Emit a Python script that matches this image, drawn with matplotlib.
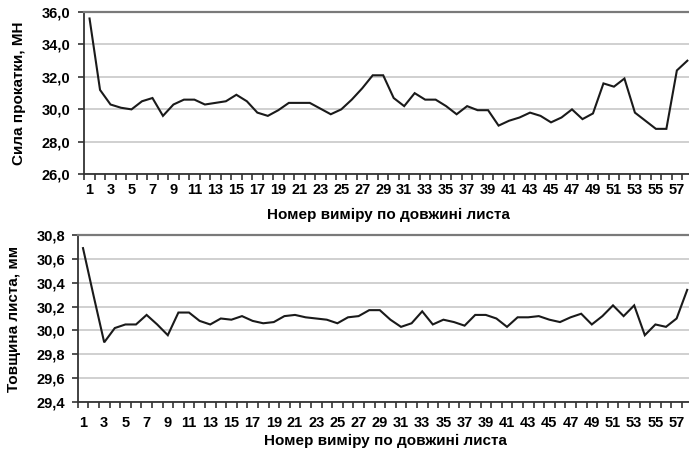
import matplotlib
matplotlib.use("Agg")
import matplotlib.pyplot as plt
from matplotlib.ticker import FixedLocator, FuncFormatter, NullFormatter

plt.rcParams['font.family'] = ['Liberation Sans', 'DejaVu Sans']
plt.rcParams['font.weight'] = 'bold'

n_points = list(range(1, 59))

force = [35.6, 31.2, 30.3, 30.1, 30.0, 30.5, 30.7, 29.6, 30.3, 30.6,
         30.6, 30.3, 30.4, 30.5, 30.9, 30.5, 29.8, 29.6, 29.95, 30.4,
         30.4, 30.4, 30.05, 29.7, 30.0, 30.6, 31.3, 32.1, 32.1, 30.7,
         30.2, 31.0, 30.6, 30.6, 30.2, 29.7, 30.2, 29.95, 29.95, 29.0,
         29.3, 29.5, 29.8, 29.6, 29.2, 29.5, 30.0, 29.4, 29.75, 31.6,
         31.4, 31.9, 29.8, 29.3, 28.8, 28.8, 32.4, 33.0]

thickness = [30.69, 30.29, 29.90, 30.02, 30.05, 30.05, 30.13, 30.05, 29.96, 30.15,
             30.15, 30.08, 30.05, 30.10, 30.09, 30.12, 30.08, 30.06, 30.07, 30.12,
             30.13, 30.11, 30.10, 30.09, 30.06, 30.11, 30.12, 30.17, 30.17, 30.09,
             30.03, 30.06, 30.16, 30.05, 30.09, 30.07, 30.04, 30.13, 30.13, 30.10,
             30.03, 30.11, 30.11, 30.12, 30.09, 30.07, 30.11, 30.14, 30.05, 30.12,
             30.21, 30.12, 30.21, 29.96, 30.05, 30.03, 30.10, 30.34]

force_ticks = [26.0, 28.0, 30.0, 32.0, 34.0, 36.0]
thick_ticks = [29.4, 29.6, 29.8, 30.0, 30.2, 30.4, 30.6, 30.8]

xlabel = "Номер виміру по довжині листа"
ylabel_top = "Сила прокатки, МН"
ylabel_bottom = "Товщина листа, мм"

W, H = 689, 450
fig = plt.figure(figsize=(W / 100, H / 100), dpi=100)

def px_axes(left, top, right, bottom):
    return fig.add_axes([left / W, (H - bottom) / H, (right - left) / W, (bottom - top) / H])

ax1 = px_axes(84.3, 12.0, 692.6, 174.3)
ax2 = px_axes(77.7, 235.0, 692.5, 402.0)

def style(ax, y, yticks, ylabel, xpad, xlabpad, ypad, ylabpad):
    ax.plot(n_points, y, color='#1a1a1a', lw=1.5, solid_joinstyle='miter', zorder=3)
    ax.set_xlim(0.5, len(n_points) + 0.5)
    ax.set_ylim(yticks[0], yticks[-1])
    ax.set_yticks(yticks)
    ax.yaxis.set_major_formatter(FuncFormatter(lambda v, p: f"{v:.1f}".replace('.', ',')))
    ax.grid(axis='y', color='#c8c8c8', lw=1.2, zorder=1)
    ax.set_axisbelow(True)
    # category boundary ticks, labels on odd categories
    ax.xaxis.set_major_locator(FixedLocator([i + 0.5 for i in range(0, len(n_points) + 1)]))
    ax.xaxis.set_major_formatter(NullFormatter())
    ax.xaxis.set_minor_locator(FixedLocator([c for c in n_points if c % 2 == 1]))
    ax.xaxis.set_minor_formatter(FuncFormatter(lambda v, p: f"{int(round(v))}"))
    ax.tick_params(axis='x', which='major', length=4, width=1.2, color='#333333', direction='out')
    ax.tick_params(axis='x', which='minor', length=0, pad=xpad, labelsize=10.5)
    ax.tick_params(axis='y', length=4, width=1.2, color='#333333', labelsize=10.5, pad=ypad)
    for lab in ax.get_xticklabels(minor=True) + ax.get_yticklabels():
        lab.set_fontweight('bold')
    ax.spines['left'].set_color('#333333')
    ax.spines['left'].set_linewidth(1.3)
    ax.spines['bottom'].set_color('#333333')
    ax.spines['bottom'].set_linewidth(1.3)
    ax.spines['top'].set_color('#7a7a7a')
    ax.spines['top'].set_linewidth(1.6)
    ax.spines['right'].set_color('#7a7a7a')
    ax.set_xlabel(xlabel, fontsize=11, fontweight='bold', labelpad=xlabpad)
    ax.set_ylabel(ylabel, fontsize=11, fontweight='bold', labelpad=ylabpad)

style(ax1, force, force_ticks, ylabel_top, xpad=6, xlabpad=8, ypad=6, ylabpad=11)
style(ax2, thickness, thick_ticks, ylabel_bottom, xpad=10, xlabpad=3, ypad=5, ylabpad=11)

fig.savefig("out.png", dpi=100)
